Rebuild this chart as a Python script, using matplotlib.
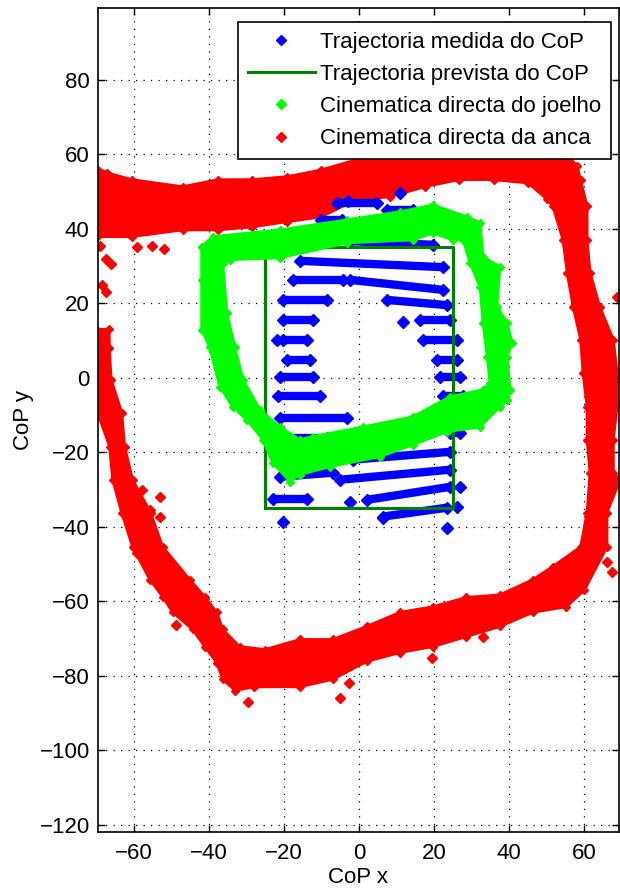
import numpy as np
import matplotlib
matplotlib.use("Agg")
import matplotlib.pyplot as plt
from matplotlib.lines import Line2D

plt.rcParams['font.family'] = ['Liberation Sans Narrow', 'Liberation Sans', 'DejaVu Sans']

# --- hip forward kinematics (red band), outer edge then inner edge ---
red_outer_x = [-70, -70, -69.6, -66.4, -65.6, -63.2, -60.3, -55.7, -52.3, -49.6, -44.3, -41.1,
               -37.9, -36.3, -33, -28, -15.8, -7, 2, 10.9, 19.7, 28.6, 37.5, 46.3, 55.2, 60,
               66, 66, 69.5, 67.7, 67.7, 68.7, 68.7, 67.7, 64.1, 61.5, 60.7, 60.7, 59, 58,
               55, 26.6, 17.5, 8.2, -0.9, -10.1, -19.2, -28.5, -37.6, -47, -60.5, -67, -70, -70]
red_outer_y = [13, -5, -9.4, -18.5, -27.4, -36.2, -45.4, -54.2, -58.8, -63, -67.6, -72.2,
               -76.5, -81, -84, -83, -83, -81, -76.2, -73.8, -72.2, -69.5, -66.8, -63, -61.5, -57,
               -45.4, -36.2, -27.4, -25.5, -16.6, -7.8, 1.3, 10.2, 19, 28.2, 37, 46, 53, 57,
               60, 60, 59.5, 59.3, 58.5, 55.8, 54, 53.2, 53.2, 51.3, 53.2, 55, 56.4, 38]
red_inner_x = [-69.8, -60.5, -47, -37.6, -28.5, -19.2, -10.1, -0.9, 8.2, 17.5, 26.6, 35.8, 45, 50,
               51.6, 54.3, 55.4, 57, 59, 59.6, 60.7, 60.7, 61.5, 60.7, 59, 51.6,
               46.3, 37.5, 28.6, 19.7, 10.9, 2, -7, -15.8, -25,
               -31.8, -36.3, -37.9, -41.1, -45.1, -52.3, -55.5, -60.3, -62.4, -63.2, -66, -66.5, -66.5]
red_inner_y = [37.9, 37.9, 39.7, 39.7, 40.5, 41.9, 43.2, 47.8, 48.6, 51.3, 53.2, 53.2, 52.3, 48,
               46, 37, 28.2, 19, 10.2, 1.3, -7.8, -16.6, -25.5, -36.2, -45.4, -50.7,
               -54.2, -58.3, -59, -61.5, -63, -66.8, -70.3, -70.3, -73,
               -72.2, -67.6, -63, -58.8, -54.2, -45.4, -36.2, -27.4, -18.5, -9.4, -0.5, 8, 13]
red_extra_x = [-69, -67.5, -66, -68.5, -67.5, -59, -55, -52, -57.9, -53.1, -53.1, -55.7, -59.2,
               -48.8, -29.6, -5.1, -2.7, 19.4, 33.0, 66, 67.3, 68.7, 66]
red_extra_y = [35.5, 32, 30.5, 25, 23, 35, 35.5, 34.5, -30.1, -31.9, -37.3, -35.4, -47,
               -66.3, -87, -85.9, -81.9, -75.2, -69.5, -49.4, -52.3, 21.7, 10.2]

# --- knee forward kinematics (green ring) ---
green_outer_x = [-41.9, -39.0, -21.1, -3.3, 10.9, 19.7, 28.7, 32.2, 33.0, 37.5, 36.7, 39.4, 40.7,
                 39.4, 40.2, 39.4, 37.5, 32.2, 23.4, 14.3, 5.5, -7.8, -15.8, -18.4, -23.0, -25.6,
                 -29.9, -33.6, -37.1, -39.8, -41.9, -41.9]
green_outer_y = [35.2, 37.9, 39.7, 42.4, 44.6, 46.4, 43.2, 41.6, 32.5, 29.8, 19.1, 14.8, 9.4,
                 5.6, -3.2, -5.9, -7.8, -13.2, -14.5, -18.0, -21.2, -23.9, -26.0, -27.9, -22.8, -16.6,
                 -11.3, -7.8, -2.4, 8.3, 12.9, 26.3]
green_inner_x = [-36.3, -34.4, -21.1, -3.3, 14.3, 19.7, 25.0, 27.7, 29.5, 32.2, 33.0, 34.1, 34.9,
                 33.0, 24.2, 14.3, 1.0, -12.3, -15.8, -21.1, -26.4, -30.9, -33.1, -35.2]
green_inner_y = [30.9, 31.7, 32.2, 36.2, 37.0, 38.9, 37.0, 37.0, 30.9, 24.4, 14.8, 5.6, -1.3,
                 -3.2, -5.1, -10.5, -13.2, -15.8, -16.6, -13.2, -8.6, -0.5, 8.3, 17.4]

# --- measured CoP (blue rows of samples): start/end of each row ---
blue_x0 = [-5.9, 7.4, -10.2, -2.5, -15.8, -17.6, -2.5, -20.2, 7.4, -20.2, 16.2, -20.2, 17.0,
           -19.2, 20.7, -21.1, 21.5, -21.7, 22.3, -21.1, 23.4, -20.2, 24.2, -1.7, -21.1, -5.1,
           -22.9, 2.1, 6.3]
blue_x1 = [4.7, 14.3, -4.6, 19.7, 22.3, -4.3, 22.3, -8.6, 23.4, -12.3, 24.2, -13.9, 26.1,
           -13.1, 26.1, -12.3, 26.9, -10.5, 27.7, -3.3, 26.3, -8.6, 26.9, 24.2, -7.0, 24.2,
           -13.9, 24.2, 23.4]
blue_y0 = [47.0, 45.1, 42.4, 36.7, 31.4, 26.3, 26.3, 20.9, 20.9, 15.6, 15.6, 10.2, 10.2,
           4.8, 4.8, 0.3, 0.3, -4.8, -4.8, -10.7, -11.2, -16.1, -14.8, -22.0, -26.6, -27.4,
           -32.5, -32.8, -37.3]
blue_y1 = [47.0, 45.1, 42.4, 35.7, 29.7, 26.3, 23.6, 20.9, 19.5, 15.6, 15.6, 10.2, 10.2,
           4.8, 4.8, 0.3, 0.3, -4.8, -4.8, -10.7, -11.2, -16.1, -14.8, -19.9, -25.5, -24.7,
           -32.5, -29.3, -34.9]
blue_pt_x = [11.7, -21.9, -2.5, -20.3, 6.3, 23.4, 26.9, 26.1, 11.0, -3.0]
blue_pt_y = [15.0, 10.2, -33.3, -38.7, -37.6, -40.3, -29.3, -34.6, 49.5, 47.5]

# --- predicted CoP (rectangle) ---
box_x = [-25, 25]
box_y = [-35, 35]

labels = ['Trajectoria medida do CoP', 'Trajectoria prevista do CoP',
          'Cinematica directa do joelho', 'Cinematica directa da anca']

fig = plt.figure(figsize=(6.2, 8.94), dpi=100)
ax = fig.add_axes([98 / 620, 62 / 894, 521 / 620, 824 / 894])

# hip band
rx = red_outer_x + red_inner_x
ry = red_outer_y + red_inner_y
ax.fill(rx, ry, color=(1, 0, 0), lw=2, zorder=1)
ax.plot(rx, ry, 'D', color=(1, 0, 0), ms=4.5, zorder=1)
ax.plot(red_extra_x, red_extra_y, 'D', color=(1, 0, 0), ms=5, lw=0, zorder=1)

# measured CoP
for x0, x1, y0, y1 in zip(blue_x0, blue_x1, blue_y0, blue_y1):
    ax.plot([x0, x1], [y0, y1], color=(0, 0, 1), lw=6, marker='D', ms=6.5,
            solid_capstyle='butt', zorder=2)
ax.plot(blue_pt_x, blue_pt_y, 'D', color=(0, 0, 1), ms=6.5, zorder=2)

# predicted CoP
bx = [box_x[0], box_x[1], box_x[1], box_x[0], box_x[0]]
by = [box_y[0], box_y[0], box_y[1], box_y[1], box_y[0]]
ax.plot(bx, by, color=(0, 0.5, 0), lw=2.2, zorder=3)

# knee ring (outer loop + reversed inner loop -> hole)
gx = green_outer_x + green_outer_x[:1] + green_inner_x[::-1] + green_inner_x[-1:]
gy = green_outer_y + green_outer_y[:1] + green_inner_y[::-1] + green_inner_y[-1:]
ax.fill(gx, gy, facecolor=(0, 1, 0), edgecolor='none', zorder=4)
ax.plot(green_outer_x + green_outer_x[:1], green_outer_y + green_outer_y[:1],
        color=(0, 1, 0), lw=2, marker='D', ms=4.5, zorder=4)
ax.plot(green_inner_x + green_inner_x[:1], green_inner_y + green_inner_y[:1],
        color=(0, 1, 0), lw=2, marker='D', ms=4.5, zorder=4)

ax.set_xlim(-69.5, 69.2)
ax.set_ylim(-122, 99.3)
ax.set_xticks(np.arange(-60, 61, 20))
ax.set_yticks(np.arange(-120, 81, 20))
ax.grid(True, color='k', linestyle=(0, (1, 5)), linewidth=0.9)
ax.set_axisbelow(True)
ax.tick_params(direction='in', top=True, right=True, length=5, width=1, labelsize=16, pad=6)
ax.tick_params(axis='x', pad=8)
for s in ax.spines.values():
    s.set_linewidth(1.2)
ax.set_xlabel('CoP x', fontsize=16, labelpad=2)
ax.set_ylabel('CoP y', fontsize=16)

handles = [Line2D([], [], color=(0, 0, 1), marker='D', ms=5, lw=0),
           Line2D([], [], color=(0, 0.5, 0), lw=2.2),
           Line2D([], [], color=(0, 1, 0), marker='D', ms=5, lw=0),
           Line2D([], [], color=(1, 0, 0), marker='D', ms=5, lw=0)]
leg = ax.legend(handles, labels, loc='upper right', bbox_to_anchor=(0.985, 0.983),
                borderaxespad=0, fontsize=16, fancybox=False, framealpha=1,
                edgecolor='k', handlelength=3.0, handletextpad=0.25, labelspacing=0.5,
                borderpad=0.45)
leg.get_frame().set_linewidth(1.2)
leg.set_zorder(10)

fig.savefig('out.png', dpi=100)
